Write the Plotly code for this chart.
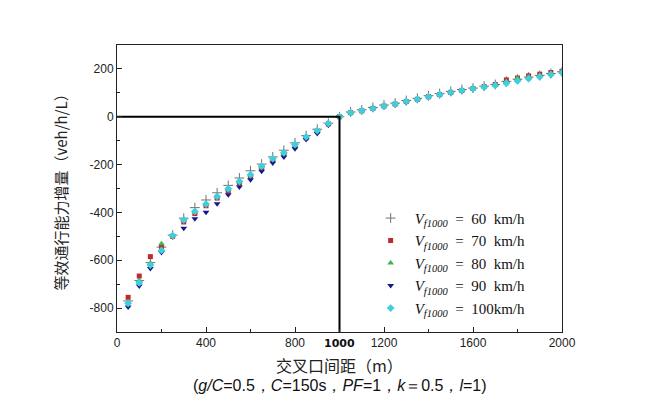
import plotly.graph_objects as go

spacing = list(range(50, 2001, 50))

v60 = [-770, -685, -610, -545, -495, -424, -380, -348, -318, -287, -256, -226, -198, -168, -140, -109, -79, -52, -27, 0,
       20, 29, 39, 49, 57, 68, 77, 88, 97, 106, 114, 120, 128, 135, 148, 157, 166, 173, 181, 188]
v70 = [-755, -666, -585, -545, -500, -440, -405, -372, -340, -310, -278, -248, -214, -182, -156, -122, -88, -60, -30, 0,
       17, 25, 35, 45, 53, 64, 73, 84, 93, 102, 110, 118, 126, 135, 154, 162, 171, 178, 185, 190]
v80 = [-775, -685, -612, -531, -497, -432, -398, -366, -334, -303, -272, -244, -209, -177, -153, -118, -85, -57, -29, 0,
       17, 25, 35, 45, 53, 64, 73, 84, 93, 102, 111, 118, 126, 134, 148, 162, 167, 175, 183, 188]
v90 = [-795, -708, -634, -568, -500, -466, -427, -399, -364, -326, -294, -263, -228, -193, -168, -134, -95, -70, -35, 0,
       14, 22, 32, 42, 50, 60, 69, 80, 89, 98, 107, 114, 122, 130, 140, 148, 157, 165, 174, 182]
v100 = [-780, -694, -620, -559, -497, -431, -396, -365, -333, -301, -270, -242, -207, -175, -151, -116, -84, -58, -28, 0,
        17, 25, 35, 45, 53, 64, 73, 84, 93, 102, 110, 117, 124, 131, 140, 150, 159, 167, 176, 184]

speed_labels = ["60&nbsp;&nbsp;km/h", "70&nbsp;&nbsp;km/h", "80&nbsp;&nbsp;km/h", "90&nbsp;&nbsp;km/h", "100km/h"]
x_ticks = [0, 400, 800, 1200, 1600, 2000]
y_ticks = [200, 0, -200, -400, -600, -800]
ref_x = 1000

series = [v60, v70, v80, v90, v100]
styles = [
    dict(symbol="cross-thin-open", size=7, color="#707070", line=dict(width=1, color="#707070")),
    dict(symbol="square", size=5, color="#c0282a"),
    dict(symbol="triangle-up", size=6, color="#3db54a"),
    dict(symbol="triangle-down", size=6, color="#141a8a"),
    dict(symbol="diamond", size=6, color="#3fcfdc"),
]

fig = go.Figure()
for vals, lab, st in zip(series, speed_labels, styles):
    fig.add_trace(go.Scatter(
        x=spacing, y=vals, mode="markers", marker=st,
        name="<i>V</i><sub><i>f1000</i></sub>&nbsp;&nbsp;=&nbsp;&nbsp;" + lab,
    ))

# reference lines at 1000 m
fig.add_trace(go.Scatter(x=[0, ref_x, ref_x], y=[0, 0, -900], mode="lines",
                         line=dict(color="black", width=2), showlegend=False, hoverinfo="skip"))

axis_common = dict(showline=True, linecolor="#222", linewidth=1, mirror=True,
                   ticks="inside", ticklen=5, tickcolor="#222", showgrid=False, zeroline=False,
                   tickfont=dict(family="Liberation Sans, Arial", size=12, color="#222"))

fig.update_xaxes(range=[0, 2000], tickvals=x_ticks, ticktext=[str(v) for v in x_ticks],
                 minor=dict(ticks="inside", ticklen=3, dtick=200, tickcolor="#222"), **axis_common)
fig.update_yaxes(range=[-900, 300], tickvals=y_ticks, ticktext=[str(v) for v in y_ticks],
                 minor=dict(ticks="inside", ticklen=3, dtick=100, tickcolor="#222"), **axis_common)

fig.add_annotation(x=ref_x, y=0, xref="x", yref="paper", yshift=-3, text="<b>1000</b>",
                   showarrow=False, yanchor="top", font=dict(family="DejaVu Sans", size=11, color="#111"))
fig.add_annotation(x=0.5, y=-0.115, xref="paper", yref="paper", text="交叉口间距（m）",
                   showarrow=False, xanchor="center", yanchor="middle",
                   font=dict(family="Noto Sans CJK SC", size=16, color="#222"))
fig.add_annotation(x=0.5, y=-0.185, xref="paper", yref="paper",
                   text="(<i>g/C</i>=0.5，<i>C</i>=150s，<i>PF</i>=1，<i>k</i>＝0.5，<i>l</i>=1)",
                   showarrow=False, xanchor="center", yanchor="middle",
                   font=dict(family="Liberation Sans, Arial", size=16, color="#111"))
fig.add_annotation(x=-0.128, y=0.5, xref="paper", yref="paper", text="等效通行能力增量（veh/h/L）",
                   textangle=-90, showarrow=False, xanchor="center", yanchor="middle",
                   font=dict(family="Noto Sans CJK SC", size=15, color="#222"))

fig.update_layout(
    width=644, height=390,
    margin=dict(l=109, r=90, t=37, b=66),
    paper_bgcolor="white", plot_bgcolor="white",
    legend=dict(x=0.561, y=0.025, xanchor="left", yanchor="bottom", bgcolor="rgba(0,0,0,0)",
                font=dict(family="Liberation Serif, DejaVu Serif", size=15, color="#111"),
                tracegroupgap=0, itemwidth=38),
)

fig.write_html("out.html")
